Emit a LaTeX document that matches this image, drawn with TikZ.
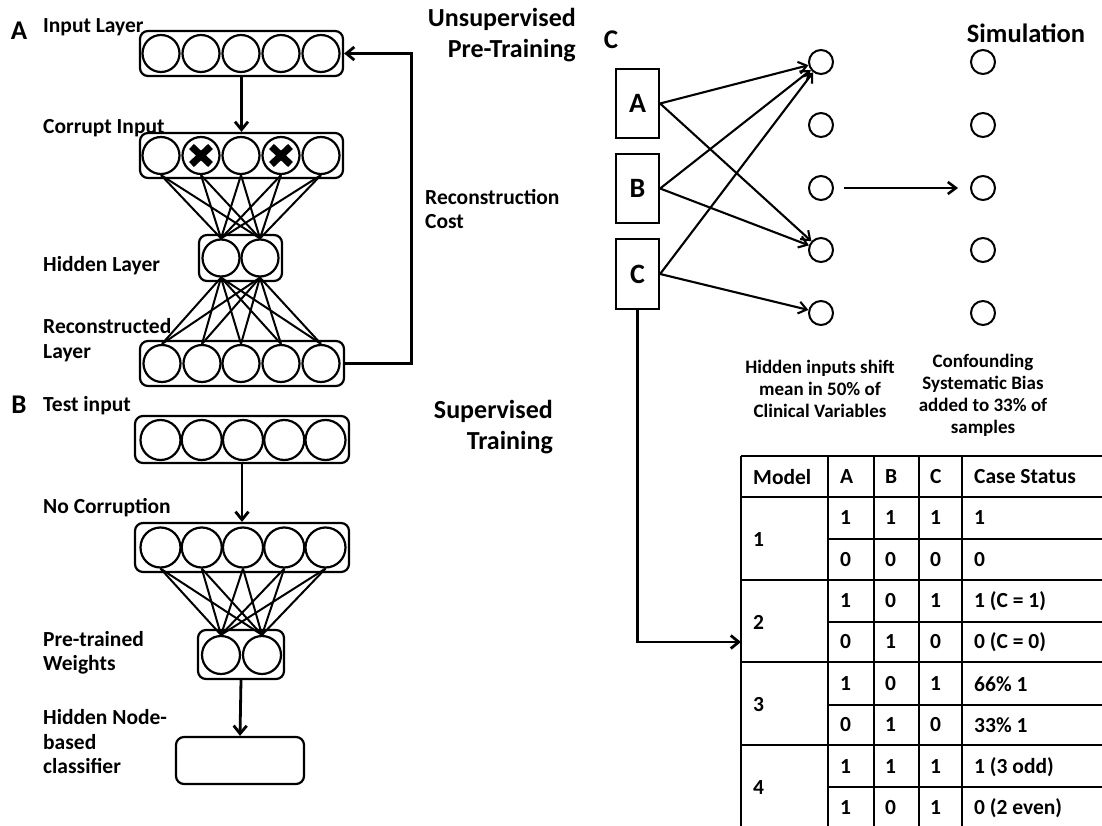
\documentclass[tikz,border=0pt]{standalone}
\usepackage{fontspec}
\setmainfont{Carlito}
\usetikzlibrary{arrows.meta,calc}
\newcommand{\fsL}{\bfseries\fontsize{21.5}{24.5}\selectfont}
\newcommand{\fsT}{\bfseries\fontsize{26}{31}\selectfont}
\newcommand{\fsS}{\bfseries\fontsize{19}{22}\selectfont}
\begin{document}
\begin{tikzpicture}[x=1pt,y=-1pt,
  lbl/.style={font=\fsL, anchor=west, align=left, inner sep=0pt},
  ttl/.style={font=\fsT, anchor=east, align=right, inner sep=0pt},
  letter/.style={font=\bfseries\fontsize{27}{30}\selectfont, inner sep=0pt},
  neu/.style={circle, draw, line width=2.2pt, inner sep=0pt, minimum size=#1},
  neu/.default=37pt,
  lay/.style={draw, line width=2.2pt, rounded corners=8pt, inner sep=0pt},
  wire/.style={line width=2pt},
  arr/.style={line width=2.8pt, -{Straight Barb[length=8pt,width=13pt]}},
  xmark/.style={line width=7pt},
  vbox/.style={draw, line width=2.2pt, inner sep=0pt, minimum width=43pt, minimum height=69pt, font=\bfseries\fontsize{28}{30}\selectfont},
  sneu/.style={circle, draw, line width=2pt, inner sep=0pt, minimum size=24pt},
  carr/.style={line width=2.1pt, -{Straight Barb[length=8pt,width=12pt]}},
  tline/.style={line width=1.6pt},
  cell/.style={font=\fsL, anchor=west, inner sep=0pt},
  note/.style={font=\fsS, align=center, inner sep=0pt}
]
\useasboundingbox (0,0) rectangle (1102,826);

%%%%%%%%%%%%%%%% Panel A %%%%%%%%%%%%%%%%
\node[letter] (labA) at (19,31) {A};
\node[lbl] (tInput) at (43,27) {Input Layer};
\node[lbl] (tCorrupt) at (43,128) {Corrupt Input};
\node[lbl] (tHidden) at (43,266) {Hidden Layer};
\node[lbl] (tRecon) at (43,340) {Reconstructed\\Layer};
\node[ttl] (tUnsup) at (576,35) {Unsupervised\\Pre-Training};
\node[lbl] (tCost) at (425,209) {Reconstruction\\Cost};

% input layer
\node[lay, minimum width=203pt, minimum height=45pt] (ia) at (241.5,53.5) {};
\foreach \i/\x in {1/161,2/201,3/241,4/281,5/321}
  \node[neu] (ia\i) at (\x,53.5) {};
% corrupt layer
\node[lay, minimum width=203pt, minimum height=45pt] (ca) at (241.5,155.5) {};
\foreach \i/\x in {1/161,2/201,3/241,4/281,5/321}
  \node[neu] (ca\i) at (\x,155.5) {};
\foreach \k in {ca2,ca4}{
  \draw[xmark] ($(\k)+(-9.5,-9)$) -- ($(\k)+(9.5,9)$);
  \draw[xmark] ($(\k)+(9.5,-9)$) -- ($(\k)+(-9.5,9)$);
}
% hidden layer
\node[lay, minimum width=83pt, minimum height=46pt] (ha) at (240.5,258) {};
\node[neu] (ha1) at (221,258) {};
\node[neu] (ha2) at (260,258) {};
% reconstructed layer
\node[lay, minimum width=204pt, minimum height=45pt] (ra) at (242,363.5) {};
\foreach \i/\x in {1/162,2/202,3/241,4/281,5/321}
  \node[neu] (ra\i) at (\x,363.5) {};

\foreach \i in {1,...,5}{
  \foreach \j in {1,2}{
    \draw[wire] (ca\i.south) -- (ha\j.north);
    \draw[wire] (ha\j.south) -- (ra\i.north);
  }
}
\draw[arr] (ia.south) -- (ca.north);
\draw[arr] (ra.east) -- ++(66,0) |- (ia.east);

%%%%%%%%%%%%%%%% Panel B %%%%%%%%%%%%%%%%
\node[letter] (labB) at (19,405) {B};
\node[lbl] (tTest) at (43,406) {Test input};
\node[lbl] (tNoC) at (43,508) {No Corruption};
\node[lbl] (tPre) at (43,653) {Pre-trained\\Weights};
\node[lbl] (tCls) at (43,742) {Hidden Node-\\based\\classifier};
\node[ttl] (tSup) at (553,427) {Supervised\\Training};

\node[lay, minimum width=214pt, minimum height=47pt] (tb) at (242,439.5) {};
\foreach \i/\x in {1/160.5,2/201.75,3/243,4/284.25,5/325.5}
  \node[neu=40pt] (tb\i) at (\x,440) {};
\node[lay, minimum width=214pt, minimum height=49pt] (nb) at (242,547.5) {};
\foreach \i/\x in {1/160.5,2/201.75,3/243,4/284.25,5/325.5}
  \node[neu=40pt] (nb\i) at (\x,547.5) {};
\node[lay, minimum width=86pt, minimum height=49pt] (hb) at (241,654.5) {};
\node[neu=38pt] (hb1) at (221,655) {};
\node[neu=38pt] (hb2) at (262,655) {};
\node[lay, minimum width=128pt, minimum height=47pt] (cls) at (240,760.5) {};

\foreach \i in {1,...,5}{
  \foreach \j in {1,2}{
    \draw[wire] (nb\i.south) -- (hb\j.north);
  }
}
\draw[arr] (tb.south) -- (nb.north);
\draw[arr] (hb.south) -- (cls.north);

%%%%%%%%%%%%%%%% Panel C %%%%%%%%%%%%%%%%
\node[letter] (labC) at (611,40) {C};
\node[font=\bfseries\fontsize{26.5}{30}\selectfont, inner sep=0pt] (tSim) at (1026,33) {Simulation};

\node[vbox] (Abox) at (637.5,103.5) {A};
\node[vbox] (Bbox) at (637.5,188.5) {B};
\node[vbox, minimum height=70pt] (Cbox) at (637.5,274) {C};

\foreach \i/\y in {1/62,2/125,3/188,4/250,5/313}{
  \node[sneu] (L\i) at (821,\y) {};
  \node[sneu] (R\i) at (983,\y) {};
}
\draw[carr] (Abox.east) -- (L1);
\draw[carr] (Abox.east) -- (L4);
\draw[carr] (Bbox.east) -- (L1);
\draw[carr] (Bbox.east) -- (L4);
\draw[carr] (Cbox.east) -- (L1);
\draw[carr] (Cbox.east) -- (L5);
\draw[carr, line width=2.6pt, shorten <=10pt, shorten >=12pt] (L3) -- (R3);

\node[note] (tShift) at (820,389) {Hidden inputs shift\\mean in 50\% of\\Clinical Variables};
\node[note] (tBias) at (983,395) {Confounding\\Systematic Bias\\added to 33\% of\\samples};

% table
\draw[tline] (741,456) -- (1102,456);
\draw[tline] (741,497) -- (1102,497);
\draw[tline] (741,580) -- (1102,580);
\draw[tline] (741,662) -- (1102,662);
\draw[tline] (741,745) -- (1102,745);
\foreach \y in {539,622,705,787} \draw[tline] (828,\y) -- (1102,\y);
\foreach \x in {741,828,874,919,962} \draw[tline] (\x,456) -- (\x,826);

\node[cell] (hM) at (753,477) {Model};
\node[cell] (hA) at (840,477) {A};
\node[cell] (hB) at (885,477) {B};
\node[cell] (hC) at (930,477) {C};
\node[cell] (hS) at (974,477) {Case Status};

\node[cell] (m1) at (753,540) {1};
\node[cell] (m2) at (753,622) {2};
\node[cell] (m3) at (753,705) {3};
\node[cell] (m4) at (753,788) {4};

\foreach \r/\y/\a/\b/\c/\s in {
  1/518/1/1/1/{1},
  2/560/0/0/0/{0},
  3/601/1/0/1/{1 (C = 1)},
  4/642/0/1/0/{0 (C = 0)},
  5/684/1/0/1/{66\% 1},
  6/725/0/1/0/{33\% 1},
  7/767/1/1/1/{1 (3 odd)},
  8/808/1/0/1/{0 (2 even)}}{
  \node[cell] (a\r) at (840,\y) {\a};
  \node[cell] (b\r) at (885,\y) {\b};
  \node[cell] (c\r) at (930,\y) {\c};
  \node[cell] (s\r) at (974,\y) {\s};
}

\coordinate (tab2) at (741,642);
\draw[arr] (Cbox.south) |- (tab2);
\end{tikzpicture}
\end{document}
